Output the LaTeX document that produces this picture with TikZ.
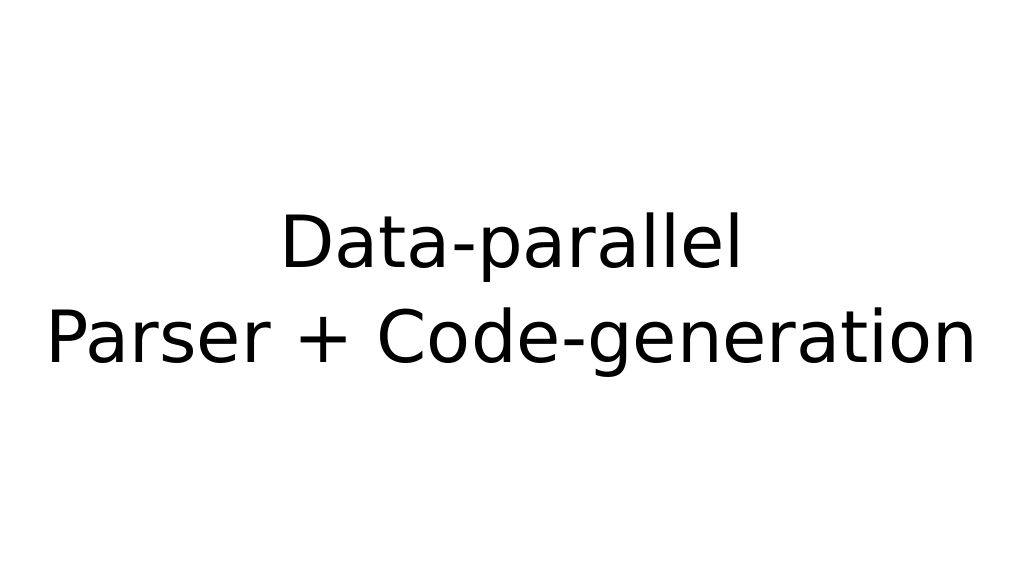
\documentclass[tikz,border=0pt]{standalone}
\usepackage{fontspec}
\setmainfont{DejaVu Sans}
\begin{document}
\begin{tikzpicture}[x=1pt,y=1pt,every node/.style={inner sep=0pt,font=\fontsize{72}{86}\selectfont}]
\useasboundingbox[fill=white] (0,0) rectangle (1024,576);
\node[anchor=base] (l1) at (512,268-576+576-0) {};
\node[anchor=base] (t1) at (512,576-268) {Data-parallel};
\node[anchor=base] (t2) at (512,576-362) {Parser + Code-generation};
\end{tikzpicture}
\end{document}
